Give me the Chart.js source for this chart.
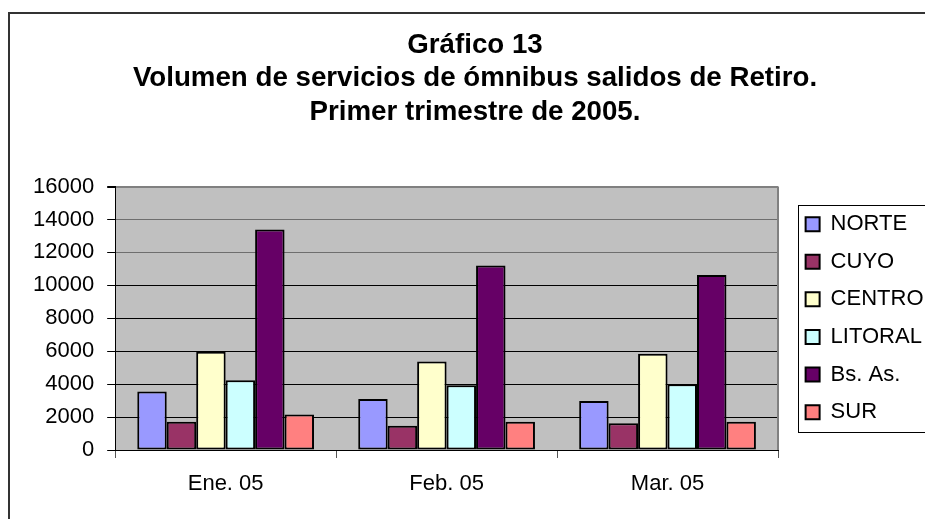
<!DOCTYPE html>
<html>
<head>
<meta charset="utf-8">
<script src="https://cdn.jsdelivr.net/npm/chart.js@4"></script>
<style>
  html, body { margin: 0; padding: 0; overflow: hidden; background: #fff; }
  canvas { display: block; }
</style>
</head>
<body>
<canvas id="grafico" width="950" height="540"></canvas>
<script>
// datos
const categorias = ['Ene. 05', 'Feb. 05', 'Mar. 05'];
const regiones = ['NORTE', 'CUYO', 'CENTRO', 'LITORAL', 'Bs. As.', 'SUR'];
const norte = [3550, 3090, 2980];
const cuyo = [1720, 1480, 1620];
const centro = [5960, 5380, 5840];
const litoral = [4240, 3930, 4000];
const bsas = [13390, 11200, 10630];
const sur = [2150, 1720, 1720];
const marcasY = [0, 2000, 4000, 6000, 8000, 10000, 12000, 14000, 16000];

const colores = ['#9999FF', '#993366', '#FFFFCC', '#CCFFFF', '#660066', '#FF8080'];
const series = [norte, cuyo, centro, litoral, bsas, sur];

Chart.defaults.font.family = "'Liberation Sans', Arial, sans-serif";
Chart.defaults.color = '#000';

// fondo gris del area de trazado y borde derecho
const fondoPlot = {
    id: 'fondoPlot',
    beforeDraw(chart) {
        const a = chart.chartArea;
        const ctx = chart.ctx;
        ctx.save();
        ctx.fillStyle = '#C0C0C0';
        ctx.fillRect(a.left, a.top, a.right - a.left, a.bottom - a.top);
        ctx.restore();
    },
    beforeDatasetsDraw(chart) {
        const a = chart.chartArea;
        const ctx = chart.ctx;
        ctx.save();
        ctx.strokeStyle = '#808080';
        ctx.lineWidth = 2;
        ctx.beginPath();
        ctx.moveTo(a.right, a.top);
        ctx.lineTo(a.right, a.bottom);
        ctx.stroke();
        ctx.restore();
    }
};

// mueve la leyenda un poco a la derecha y abajo, como en Excel
const moverLeyenda = {
    id: 'moverLeyenda',
    afterLayout(chart) {
        const lg = chart.legend;
        lg.left += 12;
        lg.right += 12;
        lg.top = chart.chartArea.top + 11;
        lg.bottom = lg.top + lg.height;
        // titulo centrado sobre todo el marco
        chart.titleBlock.left = 0;
        chart.titleBlock.right = chart.width;
    },
    afterDraw(chart) {
        const hb = chart.legend.legendHitBoxes;
        if (!hb || !hb.length) return;
        const ctx = chart.ctx;
        const x0 = hb[0].left - 8;
        const y0 = hb[0].top - 8;
        const ult = hb[hb.length - 1];
        const y1 = ult.top + ult.height + 9;
        const ancho = Math.max(...hb.map(h => h.width));
        ctx.save();
        ctx.strokeStyle = '#000';
        ctx.lineWidth = 1;
        ctx.strokeRect(Math.round(x0) + 0.5, Math.round(y0) + 0.5, ancho + 18, Math.round(y1 - y0));
        // marco exterior del grafico
        ctx.strokeStyle = '#333';
        ctx.lineWidth = 2;
        ctx.strokeRect(9, 13, 935, 540);
        ctx.restore();
    }
};

new Chart(document.getElementById('grafico'), {
    type: 'bar',
    data: {
        labels: categorias,
        datasets: regiones.map((r, i) => ({
            label: r,
            data: series[i],
            backgroundColor: colores[i],
            borderColor: '#000',
            borderWidth: 2,
            borderSkipped: false,
            categoryPercentage: 0.8,
            barPercentage: 1.0
        }))
    },
    options: {
        responsive: false,
        animation: false,
        devicePixelRatio: 1,
        layout: { padding: { left: 20, right: 28.5, top: 0, bottom: 29.6 } },
        plugins: {
            title: {
                display: true,
                text: ['Gráfico 13', 'Volumen de servicios de ómnibus salidos de Retiro.', 'Primer trimestre de 2005.'],
                font: { size: 27.7, weight: 'bold', lineHeight: 1.21 },
                color: '#000',
                padding: { top: 28.5, bottom: 57.5 }
            },
            legend: {
                position: 'right',
                align: 'start',
                labels: {
                    font: { size: 22 },
                    color: '#000',
                    boxWidth: 14,
                    boxHeight: 14,
                    padding: 15.6
                }
            },
            tooltip: { enabled: false }
        },
        scales: {
            x: {
                grid: {
                    drawOnChartArea: false,
                    offset: true,
                    tickLength: 8,
                    tickColor: '#555'
                },
                border: { color: '#000', width: 1 },
                ticks: { font: { size: 22 }, padding: 13, color: '#000' }
            },
            y: {
                min: 0,
                max: 16000,
                afterBuildTicks: (scale) => { scale.ticks = marcasY.map(v => ({ value: v })); },
                grid: {
                    color: (c) => {
                        if (!c.tick) return '#000';
                        if (c.tick.value >= 16000) return '#808080';
                        if (c.tick.value >= 12000) return '#6e6e6e';
                        return '#000';
                    },
                    lineWidth: (c) => (c.tick && c.tick.value >= 16000 ? 2 : 1),
                    tickLength: 8,
                    tickColor: '#000'
                },
                border: { color: '#000', width: 1 },
                ticks: {
                    font: { size: 22 },
                    padding: 13,
                    color: '#000',
                    callback: (v) => String(v)
                }
            }
        }
    },
    plugins: [fondoPlot, moverLeyenda]
});
</script>
</body>
</html>
